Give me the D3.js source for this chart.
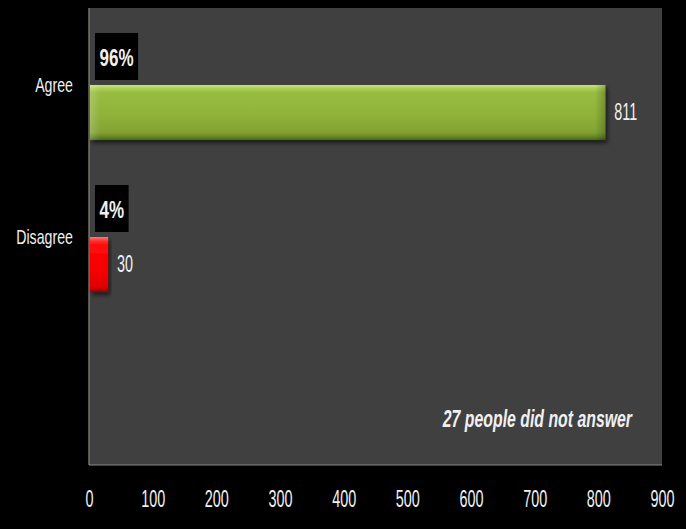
<!DOCTYPE html>
<html>
<head>
<meta charset="utf-8">
<script src="https://cdn.jsdelivr.net/npm/d3@7"></script>
<style>
  html, body { margin: 0; padding: 0; background: #000; }
  svg { display: block; }
  text { font-family: "Liberation Sans", Arial, sans-serif; fill: #f0f0f0; }
</style>
</head>
<body>
<svg id="chart" width="686" height="529"></svg>
<script>
// Survey responses
const categories = ["Agree", "Disagree"];
const counts = [811, 30];
const shares = ["96%", "4%"];
const xTicks = [0, 100, 200, 300, 400, 500, 600, 700, 800, 900];
const note = "27 people did not answer";
const barColors = ["green", "red"];

const W = 686, H = 529;
const plot = { left: 89, right: 662, top: 8, bottom: 465 };

const svg = d3.select("#chart");

svg.append("rect").attr("width", W).attr("height", H).attr("fill", "#000");

// Gradients for the bevelled bars
const defs = svg.append("defs");
function barGradient(id, stops) {
  const g = defs.append("linearGradient").attr("id", id)
    .attr("x1", 0).attr("y1", 0).attr("x2", 0).attr("y2", 1);
  stops.forEach(([o, c]) => g.append("stop").attr("offset", o).attr("stop-color", c));
}
barGradient("grad-green", [
  [0, "#c6e27a"], [0.07, "#aace55"], [0.14, "#98bc42"], [0.55, "#8fb23a"],
  [0.86, "#82a333"], [0.94, "#678626"], [1, "#4c6518"]
]);
barGradient("grad-red", [
  [0, "#ff7a7a"], [0.07, "#ff3030"], [0.15, "#ff0a0a"], [0.6, "#f70000"],
  [0.9, "#e00000"], [0.96, "#b80000"], [1, "#8c0000"]
]);
// shaded ends of the bars
const endGrad = defs.append("linearGradient").attr("id", "grad-ends")
  .attr("x1", 0).attr("y1", 0).attr("x2", 1).attr("y2", 0);
[[0, "rgba(255,255,255,0.18)"], [0.02, "rgba(255,255,255,0)"], [0.98, "rgba(0,0,0,0)"], [1, "rgba(0,0,0,0.22)"]]
  .forEach(([o, c]) => endGrad.append("stop").attr("offset", o).attr("stop-color", c));

const shadow = defs.append("filter").attr("id", "shadow")
  .attr("x", "-10%").attr("y", "-20%").attr("width", "130%").attr("height", "160%");
shadow.append("feDropShadow").attr("dx", 2).attr("dy", 3).attr("stdDeviation", 2)
  .attr("flood-color", "#000").attr("flood-opacity", 0.6);

// Plot area
svg.append("rect")
  .attr("x", plot.left).attr("y", plot.top)
  .attr("width", plot.right - plot.left).attr("height", plot.bottom - plot.top)
  .attr("fill", "#404040");

const x = d3.scaleLinear().domain([0, 900]).range([plot.left, plot.right]);
const y = d3.scaleBand().domain(categories).range([plot.top, plot.bottom])
  .paddingInner(0.638).paddingOuter(0.822).align(0.308);

// Axis lines
svg.append("line").attr("x1", plot.left).attr("x2", plot.left)
  .attr("y1", plot.top).attr("y2", plot.bottom)
  .attr("stroke", "#8a8a80").attr("stroke-width", 1.2);
svg.append("line").attr("x1", plot.left).attr("x2", plot.right)
  .attr("y1", plot.bottom).attr("y2", plot.bottom)
  .attr("stroke", "#8a8a8a").attr("stroke-width", 1.2);

// x tick labels (condensed horizontally)
const xAxis = d3.axisBottom(x).tickValues(xTicks).tickSize(0).tickPadding(0);
const axisG = svg.append("g").attr("transform", `translate(0,${plot.bottom})`).call(xAxis);
axisG.select(".domain").remove();
axisG.selectAll("text")
  .attr("y", 0).attr("dy", 0)
  .attr("transform", "translate(0,36) scale(0.6,1)")
  .style("font-size", "24px")
  .style("font-family", "'Liberation Sans', Arial, sans-serif")
  .attr("fill", "#f0f0f0")
  .attr("dominant-baseline", "middle");

const data = categories.map((c, i) => ({ cat: c, value: counts[i], share: shares[i], color: barColors[i] }));

// Bars
const bars = svg.append("g").selectAll("g").data(data).join("g").attr("filter", "url(#shadow)");
bars.append("rect")
  .attr("x", x(0) + 1).attr("y", d => y(d.cat))
  .attr("width", d => x(d.value) - x(0) - 1).attr("height", y.bandwidth())
  .attr("fill", d => `url(#grad-${d.color})`);
bars.append("rect")
  .attr("x", x(0) + 1).attr("y", d => y(d.cat))
  .attr("width", d => x(d.value) - x(0) - 1).attr("height", y.bandwidth())
  .attr("fill", "url(#grad-ends)");

// Category labels
svg.append("g").selectAll("text").data(data).join("text")
  .attr("transform", d => `translate(${plot.left - 16},${y(d.cat) + 2}) scale(0.71,1)`)
  .attr("text-anchor", "end").attr("dominant-baseline", "middle")
  .style("font-size", "20px")
  .text(d => d.cat);

// Value labels
svg.append("g").selectAll("text").data(data).join("text")
  .attr("transform", d => `translate(${x(d.value) + 9},${y(d.cat) + y.bandwidth() / 2 + 1}) scale(0.6,1)`)
  .attr("dominant-baseline", "middle")
  .style("font-size", "24px")
  .text(d => d.value);

// Share labels in black boxes above each bar
const shareSX = 0.74;
const shareG = svg.append("g").selectAll("g").data(data).join("g");
shareG.each(function (d) {
  const g = d3.select(this);
  const bx = plot.left + 6, bBottom = y(d.cat) - 5, bh = 47;
  const t = g.append("text")
    .attr("dominant-baseline", "middle")
    .style("font-size", "23px").style("font-weight", "bold")
    .text(d.share);
  const tw = t.node().getComputedTextLength() * shareSX;
  g.insert("rect", "text")
    .attr("x", bx).attr("y", bBottom - bh)
    .attr("width", tw + 9).attr("height", bh)
    .attr("fill", "#000");
  t.attr("transform", `translate(${bx + 4.5},${bBottom - 20}) scale(${shareSX},1)`);
});

// Footnote
svg.append("text")
  .attr("transform", `translate(${plot.right - 30},${plot.bottom - 44}) scale(0.66,1)`)
  .attr("text-anchor", "end").attr("dominant-baseline", "middle")
  .style("font-size", "24px").style("font-weight", "bold").style("font-style", "italic")
  .text(note);
</script>
</body>
</html>
